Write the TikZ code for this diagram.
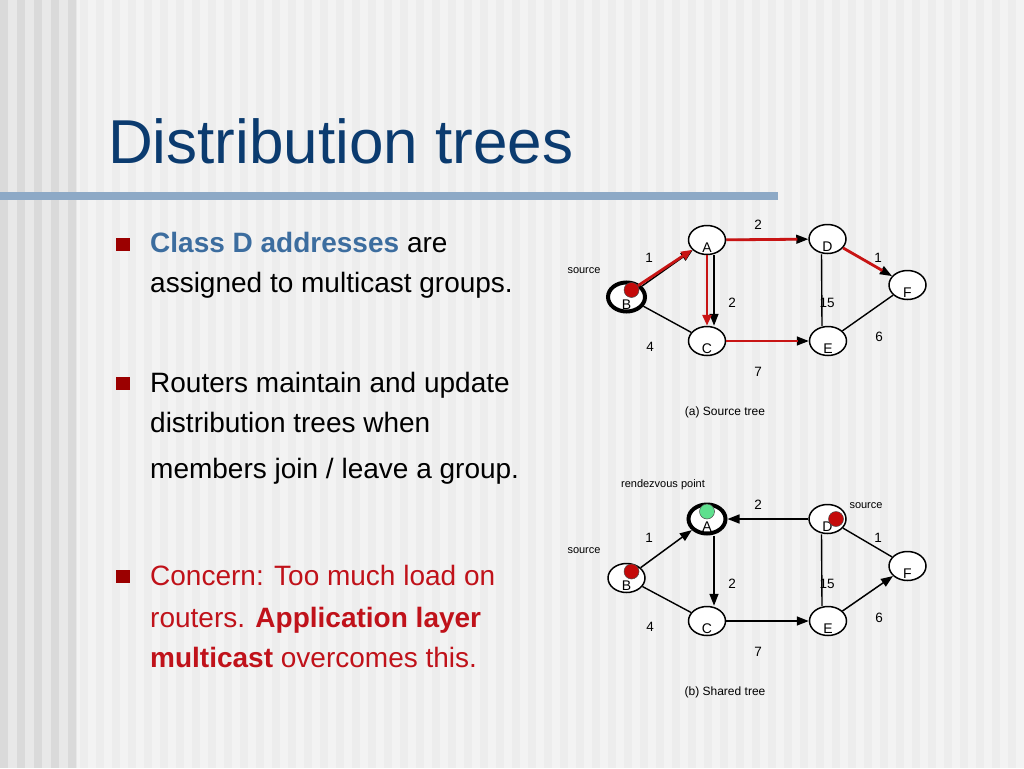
\documentclass[tikz,border=0pt]{standalone}
\usepackage{fontspec}
\setmainfont{Liberation Sans}
\usetikzlibrary{shapes.geometric,arrows.meta}
\definecolor{titleblue}{HTML}{0B3B6F}
\definecolor{rulebar}{HTML}{8DA9C6}
\definecolor{classblue}{HTML}{3C6D9F}
\definecolor{bodyred}{HTML}{C0121A}
\definecolor{bulletred}{HTML}{9B0000}
\definecolor{treered}{HTML}{C81414}
\definecolor{dotred}{HTML}{C40A0A}
\definecolor{dotgreen}{HTML}{5EE08E}
\definecolor{bgbase}{HTML}{F3F3F3}
\definecolor{bgstripe}{HTML}{EDEDED}
\definecolor{leftbase}{HTML}{E8E8E8}
\definecolor{leftstripe}{HTML}{DADADA}
\tikzset{
  bodytext/.style={anchor=base west, inner sep=0pt, font=\fontsize{28}{34}\selectfont},
  bulletbox/.style={fill=bulletred, draw=none, minimum width=14pt, minimum height=13pt, inner sep=0pt, anchor=south west},
  router/.style={ellipse, draw=black, line width=1.5pt, fill=white, minimum width=37pt, minimum height=29pt, inner sep=0pt, font=\fontsize{14}{14}\selectfont},
  hub/.style={router, line width=4pt},
  lbl/.style={inner sep=0pt, font=\fontsize{13.5}{13.5}\selectfont},
  smalllbl/.style={inner sep=0pt, font=\fontsize{11}{11}\selectfont},
  caption/.style={inner sep=0pt, font=\fontsize{12}{12}\selectfont},
  arr/.style={draw=black, line width=1.5pt, -{Triangle[length=12pt,width=9pt]}},
  plain/.style={draw=black, line width=1.4pt},
  redarr/.style={draw=treered, line width=2.8pt, -{Triangle[length=11pt,width=9pt]}},
  redline/.style={draw=treered, line width=2.8pt, shorten >=11pt},
  dot/.style={circle, draw=black!70, line width=0.5pt, minimum size=15pt, inner sep=0pt},
}
\newcommand{\rl}[1]{\raisebox{-12pt}[0pt][0pt]{#1}}
\begin{document}
\begin{tikzpicture}[x=1pt,y=-1pt]
% background
\fill[bgbase] (0,0) rectangle (1024,768);
\foreach \x in {80,96,...,1016} \fill[bgstripe] (\x,0) rectangle ++(8,768);
\fill[leftbase] (0,0) rectangle (77,768);
\foreach \x in {0,17,...,68} \fill[leftstripe] (\x,0) rectangle ++(8,768);
\useasboundingbox (0,0) rectangle (1024,768);
% title and rule
\node[anchor=base west, inner sep=0pt, text=titleblue, font=\fontsize{62}{62}\selectfont] (title) at (108,163) {Distribution trees};
\fill[rulebar] (0,192) rectangle (778,200);
% bullets
\node[bulletbox] (b1) at (116,251) {};
\node[bodytext] (t11) at (150,252) {\textcolor{classblue}{\textbf{Class D addresses}} are};
\node[bodytext] (t12) at (150,292) {assigned to multicast groups.};
\node[bulletbox] (b2) at (116,390) {};
\node[bodytext] (t21) at (150,392) {Routers maintain and update};
\node[bodytext] (t22) at (150,432) {distribution trees when};
\node[bodytext] (t23) at (150,478) {members join / leave a group.};
\node[bulletbox] (b3) at (116,583) {};
\node[bodytext, text=bodyred] (t31) at (150,585) {Concern: Too much load on};
\node[bodytext, text=bodyred] (t32) at (150,627) {routers. \textbf{Application layer}};
\node[bodytext, text=bodyred] (t33) at (150,667) {\textbf{multicast} overcomes this.};
% ---------- (a) source tree ----------
\node[router] (A1) at (707,240) {\rl{A}};
\node[router] (D1) at (827.5,239) {\rl{D}};
\node[router] (F1) at (907.5,285) {\rl{F}};
\node[hub] (B1) at (626.5,297) {\rl{B}};
\node[router] (C1) at (707,341) {\rl{C}};
\node[router] (E1) at (828,341) {\rl{E}};
\node[dot, fill=dotred] (s1) at (631.5,290) {};
\draw[plain] (B1) -- (C1);
\draw[plain] ([xshift=-6pt]D1.south) -- ([xshift=-6pt]E1.north);
\draw[plain] (E1) -- (F1);
\draw[arr] (B1) -- (A1);
\draw[redarr] (s1) -- (A1);
\draw[arr] (A1) -- (D1);
\draw[redline] (A1) -- (D1);
\draw[arr] ([xshift=7pt]A1.south) -- ([xshift=7pt]C1.north);
\draw[redarr] (A1.south) -- (C1.north);
\draw[arr] (C1) -- (E1);
\draw[redline] (C1) -- (E1);
\draw[arr] (D1) -- (F1);
\draw[redline] (D1) -- (F1);
\node[lbl] (w1a) at (758,225) {2};
\node[lbl] (w2a) at (649,258) {1};
\node[smalllbl] (srca) at (584,271) {source};
\node[lbl] (w3a) at (732,303) {2};
\node[lbl] (w4a) at (827,303) {15};
\node[lbl] (w5a) at (878,258) {1};
\node[lbl] (w6a) at (879,337) {6};
\node[lbl] (w7a) at (650,347) {4};
\node[lbl] (w8a) at (758,372) {7};
\node[caption] (capa) at (725,412) {(a) Source tree};
% ---------- (b) shared tree ----------
\node[hub] (A2) at (707,519) {\rl{A}};
\node[router] (D2) at (827.5,519) {\rl{D}};
\node[router] (F2) at (907.5,566) {\rl{F}};
\node[router] (B2) at (626.5,578) {\rl{B}};
\node[router] (C2) at (707,621) {\rl{C}};
\node[router] (E2) at (828,621) {\rl{E}};
\node[dot, fill=dotgreen] (rp) at (707,511.5) {};
\node[dot, fill=dotred] (s2) at (631.5,571.5) {};
\node[dot, fill=dotred] (s3) at (836,519) {};
\draw[plain] (B2) -- (C2);
\draw[plain] ([xshift=-6pt]D2.south) -- ([xshift=-6pt]E2.north);
\draw[plain] (D2) -- (F2);
\draw[arr] (B2) -- (A2);
\draw[arr] (D2) -- (A2);
\draw[arr] ([xshift=7pt]A2.south) -- ([xshift=7pt]C2.north);
\draw[arr] (C2) -- (E2);
\draw[arr] (E2) -- (F2);
\node[smalllbl] (rvp) at (663,485) {rendezvous point};
\node[lbl] (w1b) at (758,505) {2};
\node[smalllbl] (srcb) at (866,506) {source};
\node[lbl] (w2b) at (649,538) {1};
\node[smalllbl] (srcc) at (584,551) {source};
\node[lbl] (w5b) at (878,538) {1};
\node[lbl] (w3b) at (732,584) {2};
\node[lbl] (w4b) at (827,584) {15};
\node[lbl] (w6b) at (879,618) {6};
\node[lbl] (w7b) at (650,627) {4};
\node[lbl] (w8b) at (758,652) {7};
\node[caption] (capb) at (725,692) {(b) Shared tree};
\end{tikzpicture}
\end{document}
